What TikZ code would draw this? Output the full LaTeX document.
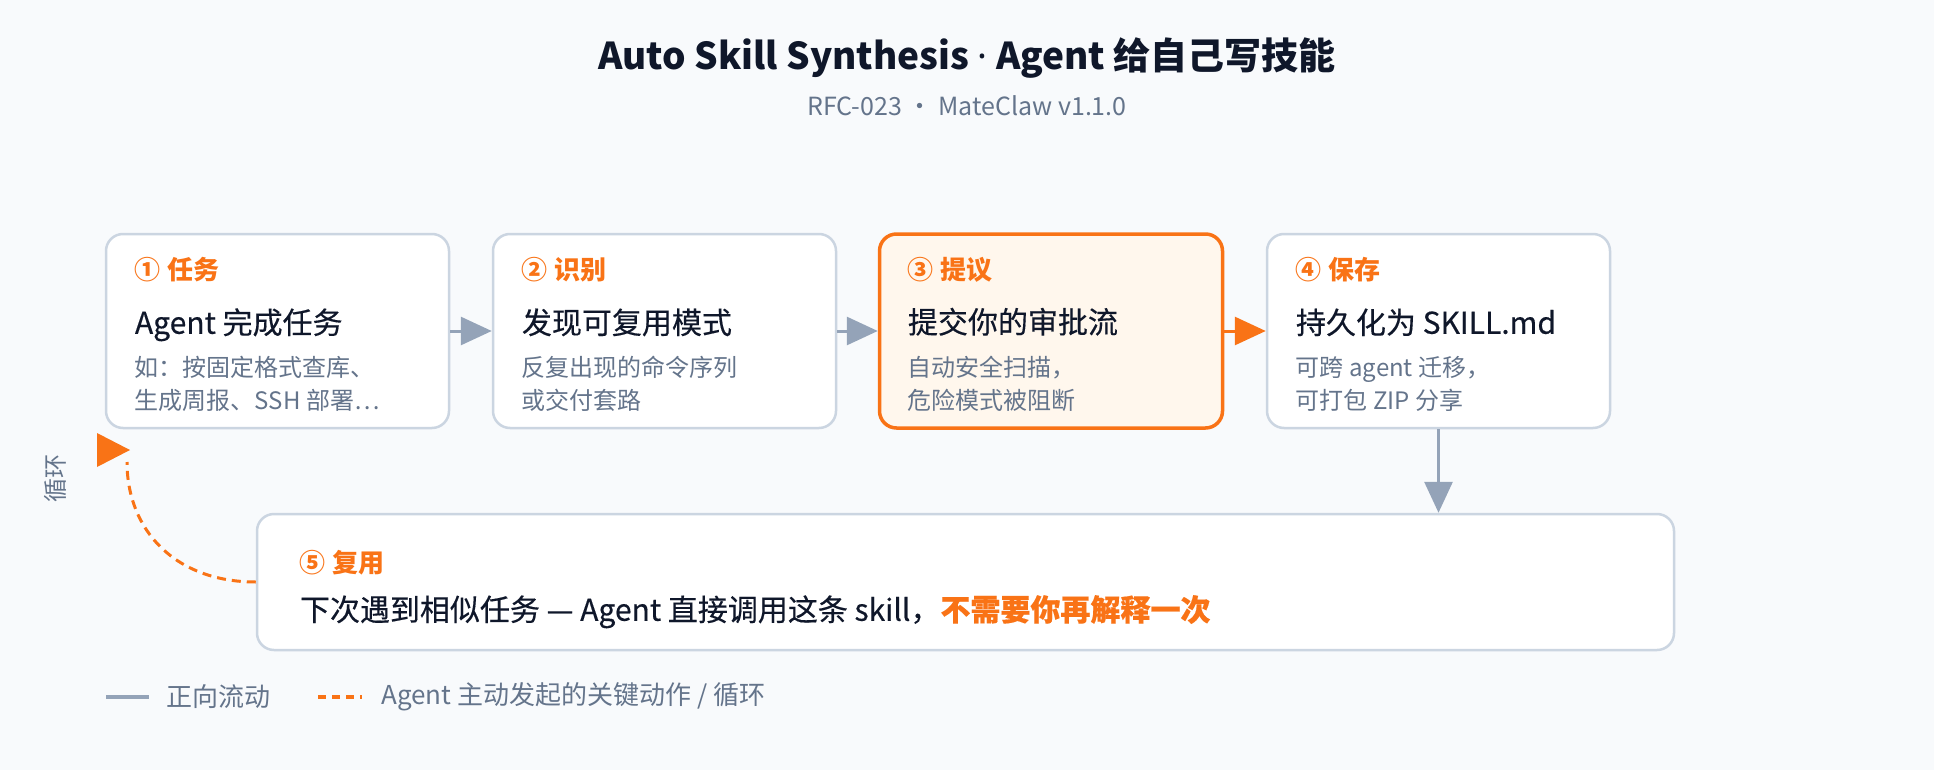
\documentclass[tikz,border=0pt]{standalone}
\usepackage{fontspec}
\setmainfont{Noto Sans CJK SC}
\newfontfamily\latinfont{Noto Sans}
\newfontfamily\medfont[FakeBold=0.35]{Noto Sans CJK SC}
\usetikzlibrary{arrows.meta,calc}
\definecolor{bg}{HTML}{F8FAFC}
\definecolor{cardline}{HTML}{CBD5E1}
\definecolor{flowgray}{HTML}{94A3B8}
\definecolor{accent}{HTML}{F97316}
\definecolor{ink}{HTML}{0F172A}
\definecolor{muted}{HTML}{64748B}
\definecolor{hotfill}{HTML}{FFF7ED}
\newcommand{\fs}[1]{\fontsize{#1}{#1}\selectfont}
\begin{document}
\begin{tikzpicture}[x=1pt,y=-1pt,
  card/.style={draw=cardline, line width=2.5pt, fill=white, rounded corners=17pt,
    minimum width=343pt, minimum height=194pt, inner sep=0pt},
  hotcard/.style={card, draw=accent, line width=3.5pt, fill=hotfill},
  widecard/.style={card, minimum width=1417pt, minimum height=136pt},
  lbl/.style={anchor=base west, inner sep=0pt, text=accent, font=\fs{26}\bfseries},
  mainline/.style={anchor=base west, inner sep=0pt, text=ink, font=\fs{30}\medfont},
  subline/.style={anchor=base west, inner sep=0pt, text=muted, font=\fs{24}},
  legendtxt/.style={anchor=west, inner sep=0pt, text=muted, font=\fs{26}},
  garrow/.style={draw=flowgray, line width=3pt, -{Triangle[length=31pt,width=28pt]}},
  oarrow/.style={draw=accent, line width=3pt, -{Triangle[length=31pt,width=28pt]}},
  loopline/.style={draw=accent, line width=3pt, dash pattern=on 9pt off 6pt}
]
\useasboundingbox[fill=bg] (0,0) rectangle (1934,770);

% title
\node[text=ink, font=\fs{37}\bfseries] (title) at (967,58) {Auto Skill Synthesis {\latinfont\bfseries ·} Agent 给自己写技能};
\node[text=muted, font=\fs{25}] (subtitle) at (967,106) {RFC-023 · MateClaw v1.1.0};

% cards
\node[card] (b1) at (277.5,331) {};
\node[card] (b2) at (664.5,331) {};
\node[hotcard] (b3) at (1051,331) {};
\node[card] (b4) at (1438.5,331) {};
\node[widecard] (b5) at (965.5,582) {};

% card 1
\node[lbl] (l1) at ($(b1.north west)+(30,47)$) {①\hspace{0.25em}任务};
\node[mainline] (m1) at ($(b1.north west)+(30,101)$) {Agent 完成任务};
\node[subline] (s1a) at ($(b1.north west)+(30,144)$) {如：按固定格式查库、};
\node[subline] (s1b) at ($(b1.north west)+(30,177)$) {生成周报、SSH 部署…};
% card 2
\node[lbl] (l2) at ($(b2.north west)+(30,47)$) {②\hspace{0.25em}识别};
\node[mainline] (m2) at ($(b2.north west)+(30,101)$) {发现可复用模式};
\node[subline] (s2a) at ($(b2.north west)+(30,144)$) {反复出现的命令序列};
\node[subline] (s2b) at ($(b2.north west)+(30,177)$) {或交付套路};
% card 3
\node[lbl] (l3) at ($(b3.north west)+(30,47)$) {③\hspace{0.25em}提议};
\node[mainline] (m3) at ($(b3.north west)+(30,101)$) {提交你的审批流};
\node[subline] (s3a) at ($(b3.north west)+(30,144)$) {自动安全扫描，};
\node[subline] (s3b) at ($(b3.north west)+(30,177)$) {危险模式被阻断};
% card 4
\node[lbl] (l4) at ($(b4.north west)+(30,47)$) {④\hspace{0.25em}保存};
\node[mainline] (m4) at ($(b4.north west)+(30,101)$) {持久化为 SKILL.md};
\node[subline] (s4a) at ($(b4.north west)+(30,144)$) {可跨 agent 迁移，};
\node[subline] (s4b) at ($(b4.north west)+(30,177)$) {可打包 ZIP 分享};
% card 5
\node[lbl] (l5) at ($(b5.north west)+(44,60)$) {⑤\hspace{0.25em}复用};
\node[mainline] (m5) at ($(b5.north west)+(44,108)$) {下次遇到相似任务 — Agent 直接调用这条 skill，\textcolor{accent}{\bfseries 不需要你再解释一次}};

% connectors
\draw[garrow] (b1.east) -- (b2.west);
\draw[garrow] (b2.east) -- (b3.west);
\draw[oarrow] (b3.east) -- (b4.west);
\draw[garrow] (b4.south) -- (b4.south |- b5.north);

% loop back
\coordinate (lt) at (127,462);
\draw[loopline] (b5.west) .. controls (175,582) and (127,530) .. (lt);
\fill[accent] (97,433) -- (130,450) -- (97,467) -- cycle;
\node[text=muted, font=\fs{24}, rotate=90] (looplbl) at (55,478) {循环};

% legend
\coordinate (g1a) at (106,697);
\coordinate (g1b) at (149,697);
\draw[draw=flowgray, line width=3.5pt] (g1a) -- (g1b);
\node[legendtxt] (g1t) at (166,697) {正向流动};
\coordinate (g2a) at (318,697);
\coordinate (g2b) at (362,697);
\draw[draw=accent, line width=3.5pt, dash pattern=on 8pt off 6pt] (g2a) -- (g2b);
\node[legendtxt] (g2t) at (381,697) {Agent 主动发起的关键动作 / 循环};
\end{tikzpicture}
\end{document}
